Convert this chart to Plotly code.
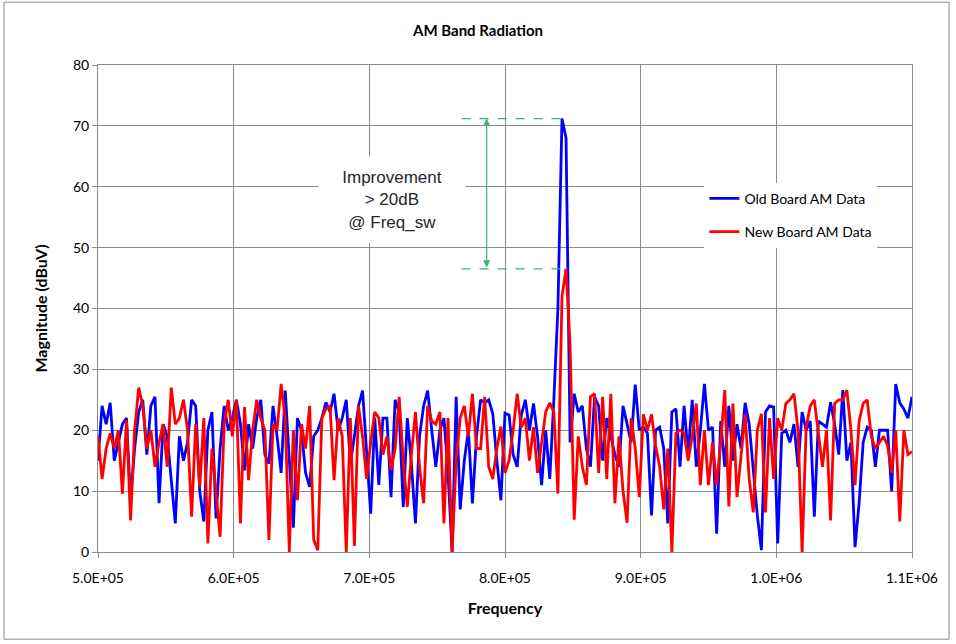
import plotly.graph_objects as go

# Frequency sampling grid (Hz)
freq = [500000 + 3000 * i for i in range(201)]

old_board = [
    15, 24, 21, 24.5, 15, 18, 21, 22, 8.5, 17,
    23, 25, 16, 24, 25.5, 8, 21, 19, 12, 4.7,
    19, 15, 18, 25, 24, 10, 5, 20, 23, 5.5,
    17, 24, 20, 22, 25, 21, 13.4, 21, 17, 22,
    25, 16, 14.5, 24, 19, 13, 26.5, 15, 4, 22,
    20, 13, 10.7, 19, 20, 22, 24.6, 23, 26, 20,
    22, 25, 14.5, 19, 24, 26.5, 16, 6.3, 22, 11,
    22, 22, 9, 25, 23, 7.4, 22, 14.5, 4.7, 19,
    24, 26.5, 20, 14, 20, 22, 13, 0, 25.5, 7,
    15, 20, 8, 19, 25, 24.5, 25, 22.7, 15, 8.5,
    22.8, 22.5, 16, 14, 22.5, 25, 20, 24.4, 19, 11,
    20, 12, 25, 40, 71.2, 68, 18, 26, 23, 24,
    17, 14, 25.5, 24, 15, 22, 19, 16, 14, 24,
    21, 18, 27.5, 20, 20.5, 19.5, 6, 20, 20.5, 17,
    4.7, 23, 23.5, 14, 24, 16, 25, 14, 20, 27.6,
    20, 20.5, 3, 21.5, 14, 24, 15, 21, 17, 24.5,
    21, 14, 6, 0.3, 23, 24, 23.8, 1.4, 19.5, 20,
    18, 21, 14, 23, 20, 21.5, 5.8, 21.5, 21, 20.5,
    24.6, 21, 16, 26.6, 15, 18, 0.8, 8, 18, 20.5,
    20, 14, 20, 20, 20, 10, 27.6, 24.5, 23.5, 22, 25.5,
]

new_board = [
    19, 12, 17, 19.5, 17, 20, 9.6, 21.6, 5.2, 20,
    27, 24, 17, 20, 14, 18, 21, 14, 27, 21,
    22, 25, 20, 5.8, 21, 10.7, 22, 1.4, 17, 10,
    2.5, 21, 25, 19, 25, 4.7, 23.8, 11.8, 20, 25,
    22, 20, 2, 21, 20, 27.6, 22, 0, 20, 8.5,
    21, 17, 24, 2, 0.3, 22, 23.5, 24, 11.8, 22,
    19, 0, 22, 1, 24, 19, 12, 18, 23, 22,
    16, 19, 13.5, 17, 25.5, 15, 7.4, 16, 23, 14,
    8, 24, 21.5, 21, 23, 4.7, 22, 0, 15, 22,
    24, 19, 26, 17, 17, 25.5, 14, 12, 17, 20.6,
    13, 15, 20, 26, 20.5, 22, 15, 20.5, 13, 18,
    23, 24.5, 23, 9.6, 42, 46.5, 34, 5.3, 19, 14,
    11, 25.5, 26, 13, 25.5, 12, 26, 8, 19, 10,
    4.8, 22, 17, 9, 22.6, 20, 22.6, 17.5, 14, 7,
    17, 0, 19.5, 20, 19.5, 15, 19, 24.4, 11, 20,
    11, 18, 11, 18, 26.6, 7.5, 24.4, 9, 16, 22.6,
    12, 6.5, 20, 22.7, 6.5, 22, 12, 22, 20, 24.4,
    25, 26, 20, 0, 20.5, 24, 25, 19.5, 14, 20,
    5.2, 24.4, 25, 25, 26.6, 20, 11, 21.5, 24.4, 25,
    19, 17, 18, 19, 17.5, 13, 20, 5, 20, 16, 16.5,
]

x_tickvals = [500000, 600000, 700000, 800000, 900000, 1000000, 1100000]
x_ticktext = ["5.0E+05", "6.0E+05", "7.0E+05", "8.0E+05", "9.0E+05", "1.0E+06", "1.1E+06"]
y_tickvals = [0, 10, 20, 30, 40, 50, 60, 70, 80]

FONT = "Lato"
GRID = "#8c8c8c"
GREEN = "#3cb371"

fig = go.Figure()
fig.add_trace(go.Scatter(x=freq, y=old_board, mode="lines", name="Old Board AM Data",
                         line=dict(color="#0000ff", width=2.8), legendgroup="a"))
fig.add_trace(go.Scatter(x=freq, y=new_board, mode="lines", name="New Board AM Data",
                         line=dict(color="#ff0000", width=2.8), legendgroup="b"))

peak_old = max(old_board)
peak_new = max(new_board)
peak_x = freq[old_board.index(peak_old)]
dash_start = 768000
arrow_x = 786500

fig.add_shape(type="line", xref="x", yref="y", x0=dash_start, x1=peak_x, y0=peak_old, y1=peak_old,
              line=dict(color=GREEN, width=1.2, dash="dash"))
fig.add_shape(type="line", xref="x", yref="y", x0=dash_start, x1=peak_x, y0=peak_new, y1=peak_new,
              line=dict(color=GREEN, width=1.2, dash="dash"))
# outer chart border
fig.add_shape(type="rect", xref="paper", yref="paper", x0=-0.1155, x1=1.0455, y0=-0.179, y1=1.129,
              line=dict(color="#8a8a8a", width=1), layer="below")

fig.add_annotation(x=arrow_x, y=peak_old, ax=arrow_x, ay=peak_new, xref="x", yref="y",
                   axref="x", ayref="y", showarrow=True, arrowside="end+start",
                   arrowhead=2, startarrowhead=2, arrowsize=1.2, startarrowsize=1.2,
                   arrowwidth=1.2, arrowcolor=GREEN, text="")
fig.add_annotation(x=716500, y=57.8, xref="x", yref="y", showarrow=False,
                   text="Improvement<br>&gt; 20dB<br>@ Freq_sw",
                   font=dict(family="Liberation Sans", size=17, color="#262626"),
                   bgcolor="white", width=144, height=84, align="center", valign="middle")

fig.update_layout(
    width=956, height=644,
    paper_bgcolor="white", plot_bgcolor="white",
    margin=dict(l=98, r=44, t=65, b=92),
    title=dict(text="<b>AM Band Radiation</b>", x=0.5, xanchor="center", y=0.953, yanchor="middle",
               font=dict(family=FONT, size=15, color="#000000")),
    font=dict(family=FONT, size=14, color="#000000"),
    showlegend=True,
    legend=dict(x=0.745, y=0.758, xanchor="left", yanchor="top", bgcolor="white",
                font=dict(family=FONT, size=14, color="#000000"),
                traceorder="grouped", tracegroupgap=12, itemwidth=30),
)

fig.update_xaxes(range=[500000, 1100000], tickmode="array", tickvals=x_tickvals, ticktext=x_ticktext,
                 showgrid=True, gridcolor=GRID, gridwidth=1, showline=True, linecolor=GRID,
                 linewidth=1, mirror=True, ticks="outside", ticklen=5, tickcolor=GRID,
                 ticklabelstandoff=8,
                 zeroline=False, tickfont=dict(family=FONT, size=14),
                 title=dict(text="<b>Frequency</b>", font=dict(family=FONT, size=16), standoff=18))
fig.update_yaxes(range=[0, 80], tickmode="array", tickvals=y_tickvals,
                 showgrid=True, gridcolor=GRID, gridwidth=1, showline=True, linecolor=GRID,
                 linewidth=1, mirror=True, ticks="outside", ticklen=5, tickcolor=GRID,
                 zeroline=False, tickfont=dict(family=FONT, size=14),
                 title=dict(text="<b>Magnitude (dBuV)</b>", font=dict(family=FONT, size=16), standoff=21))

fig.write_html("out.html", post_script="document.body.style.margin='0';",
               config={"displayModeBar": False})
